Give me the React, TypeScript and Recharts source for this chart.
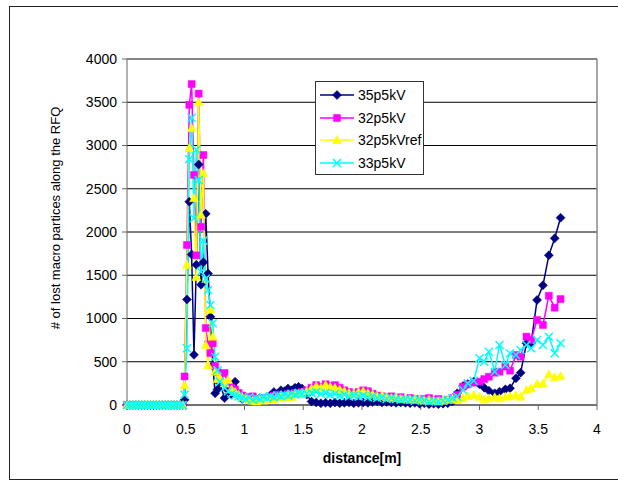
import React from "react";
import {
  LineChart,
  Line,
  XAxis,
  YAxis,
  CartesianGrid,
  ReferenceLine,
} from "recharts";

// distance along the RFQ [m]
const distance = [
  0, 0.025, 0.05, 0.075, 0.1, 0.125, 0.15, 0.175, 0.2, 0.225, 0.25, 0.275, 0.3, 0.325, 0.35, 0.375, 0.4, 0.425, 0.45, 0.475,
  0.49, 0.51, 0.53, 0.55, 0.57, 0.59, 0.61, 0.63, 0.65, 0.67, 0.69, 0.71, 0.73, 0.75, 0.77, 0.79,
  0.83, 0.86, 0.89, 0.92, 0.95, 0.98, 1.01, 1.04, 1.07, 1.1, 1.13, 1.16, 1.19, 1.22, 1.25, 1.28, 1.31, 1.34, 1.37, 1.4, 1.43, 1.46, 1.49,
  1.53, 1.57, 1.61, 1.65, 1.69, 1.73, 1.77, 1.81, 1.85, 1.89, 1.93, 1.97, 2.01, 2.05, 2.09, 2.13, 2.17, 2.21, 2.25, 2.29, 2.33, 2.37, 2.41, 2.45, 2.49, 2.53, 2.57, 2.61, 2.65, 2.69, 2.73, 2.77,
  2.81, 2.86, 2.9, 2.95, 3.0, 3.04, 3.08, 3.13, 3.17, 3.22, 3.26, 3.31, 3.35, 3.4, 3.44, 3.49, 3.54, 3.59, 3.64, 3.69,
];

const lost35p5kV = [
  0, 0, 0, 0, 0, 0, 0, 0, 0, 0, 0, 0, 0, 0, 0, 0, 0, 0, 0, 0,
  60, 1220, 2350, 1740, 580, 1620, 2780, 1390, 1650, 2210, 1520, 1020, 460, 135, 180, 250,
  80, 170, 120, 270, 110, 70, 90, 60, 50, 70, 80, 60, 90, 110, 150, 130, 170, 160, 190, 170, 200, 210, 190,
  120, 40, 30, 20, 25, 20, 30, 20, 25, 30, 20, 25, 30, 25, 35, 40, 30, 35, 30, 25, 30, 25, 20, 25, 15, 20, 10, 15, 10, 15, 20, 40,
  135, 220, 243, 270, 240, 200, 165, 135, 154, 181, 193, 309, 373, 713, 720, 1214, 1384, 1730, 1927, 2165,
];

const lost32p5kV = [
  0, 0, 0, 0, 0, 0, 0, 0, 0, 0, 0, 0, 0, 0, 0, 0, 0, 0, 0, 0,
  330, 1850, 3470, 3710, 2660, 1730, 3600, 2060, 2890, 890, 700, 600, 713, 450, 380, 300,
  370, 240, 200, 180, 140, 110, 90, 80, 100, 70, 60, 80, 70, 90, 110, 120, 100, 110, 130, 120, 140, 130, 150,
  170, 200, 230, 210, 240, 220, 230, 200, 170, 150, 130, 150, 170, 160, 130, 110, 100, 90, 100, 80, 90, 70, 80, 70, 60, 70, 80, 60, 70, 50, 60, 80,
  116, 212, 240, 258, 270, 300, 327, 373, 385, 443, 397, 578, 558, 790, 751, 983, 925, 1263, 1125, 1225,
];

const lost32p5kVref = [
  0, 0, 0, 0, 0, 0, 0, 0, 0, 0, 0, 0, 0, 0, 0, 0, 0, 0, 0, 0,
  230, 1620, 2970, 3200, 2390, 1480, 3500, 2200, 2680, 694, 460, 1100, 789, 385, 300, 312,
  250, 290, 180, 150, 120, 90, 80, 60, 50, 40, 60, 50, 70, 80, 60, 90, 100, 80, 110, 90, 120, 130, 140,
  160, 190, 220, 200, 230, 210, 200, 180, 160, 140, 130, 150, 160, 140, 120, 100, 110, 90, 80, 90, 70, 80, 60, 70, 60, 50, 60, 50, 40, 50, 60, 70,
  58, 77, 104, 116, 96, 66, 77, 90, 77, 96, 100, 116, 96, 173, 193, 243, 250, 355, 320, 335,
];

const lost33p5kV = [
  0, 0, 0, 0, 0, 0, 0, 0, 0, 0, 0, 0, 0, 0, 0, 0, 0, 0, 0, 0,
  120, 655, 2840, 3320, 2160, 2950, 2600, 1540, 1900, 1460, 1330, 1156, 944, 558, 400, 270,
  200, 160, 130, 110, 100, 80, 70, 90, 60, 80, 70, 90, 80, 100, 90, 110, 100, 120, 110, 130, 120, 140, 130,
  130, 140, 150, 130, 140, 120, 130, 110, 120, 100, 110, 100, 110, 90, 100, 80, 90, 70, 80, 70, 60, 70, 60, 50, 60, 50, 40, 50, 40, 50, 60, 80,
  96, 173, 250, 281, 540, 500, 616, 385, 694, 462, 598, 578, 636, 694, 655, 751, 694, 790, 598, 713,
];

const xTicks = [0, 0.5, 1, 1.5, 2, 2.5, 3, 3.5, 4];
const yTicks = [0, 500, 1000, 1500, 2000, 2500, 3000, 3500, 4000];

const data = distance.map((x, i) => ({
  x,
  s35: lost35p5kV[i],
  s32: lost32p5kV[i],
  s32ref: lost32p5kVref[i],
  s33: lost33p5kV[i],
}));

const FONT = '"Liberation Sans", Arial, sans-serif';

type Shape = "diamond" | "square" | "triangle" | "cross";

function markerPath(shape: Shape, cx: number, cy: number) {
  if (shape === "diamond") {
    return `M${cx},${cy - 4.5}L${cx + 4.5},${cy}L${cx},${cy + 4.5}L${cx - 4.5},${cy}Z`;
  }
  if (shape === "square") {
    return `M${cx - 3.5},${cy - 3.5}h7v7h-7Z`;
  }
  if (shape === "triangle") {
    return `M${cx},${cy - 4.5}L${cx + 4.5},${cy + 3.5}L${cx - 4.5},${cy + 3.5}Z`;
  }
  return `M${cx - 4},${cy - 4}L${cx + 4},${cy + 4}M${cx - 4},${cy + 4}L${cx + 4},${cy - 4}`;
}

function Marker({ shape, color, cx, cy }: { shape: Shape; color: string; cx: number; cy: number }) {
  if (shape === "cross") {
    return <path d={markerPath(shape, cx, cy)} stroke={color} strokeWidth={1.5} fill="none" />;
  }
  return <path d={markerPath(shape, cx, cy)} fill={color} stroke={color} strokeWidth={0.5} />;
}

const series = [
  { key: "s35", name: "35p5kV", color: "#000080", shape: "diamond" as Shape },
  { key: "s32", name: "32p5kV", color: "#FF00FF", shape: "square" as Shape },
  { key: "s32ref", name: "32p5kVref", color: "#FFFF00", shape: "triangle" as Shape },
  { key: "s33", name: "33p5kV", color: "#00FFFF", shape: "cross" as Shape },
];

function makeDot(shape: Shape, color: string) {
  return (props: any) => {
    const { cx, cy, index } = props;
    if (cx == null || cy == null) return <g key={index} />;
    return (
      <g key={index}>
        <Marker shape={shape} color={color} cx={cx} cy={cy} />
      </g>
    );
  };
}

function LegendBox() {
  return (
    <div
      style={{
        position: "absolute",
        left: 315,
        top: 81,
        width: 107,
        height: 92,
        border: "1px solid #333",
        background: "#fff",
        fontFamily: FONT,
        fontSize: 14,
      }}
    >
      {series.map((s, i) => (
        <div
          key={s.key}
          style={{ position: "absolute", left: 4, top: 3 + i * 22.5, height: 20, display: "flex", alignItems: "center" }}
        >
          <svg width={36} height={20}>
            <line x1={0} y1={10} x2={34} y2={10} stroke={s.color} strokeWidth={1.5} />
            <Marker shape={s.shape} color={s.color} cx={17} cy={10} />
          </svg>
          <span style={{ marginLeft: 2 }}>{s.name}</span>
        </div>
      ))}
    </div>
  );
}

export default function App() {
  return (
    <div style={{ position: "absolute", left: 0, top: 0, width: 618, height: 481, overflow: "hidden", background: "#fff" }}>
      <div
        style={{
          position: "absolute",
          left: 9,
          top: 6,
          width: 640,
          height: 472,
          border: "1.5px solid #222",
        }}
      />
      <div style={{ position: "absolute", left: 0, top: 0 }}>
        <LineChart
          width={618}
          height={481}
          data={data}
          margin={{ top: 59, right: 21, left: 67, bottom: 46 }}
        >
          <CartesianGrid vertical={false} stroke="#000" strokeWidth={1} />
          <XAxis
            dataKey="x"
            type="number"
            domain={[0, 4]}
            ticks={xTicks}
            height={30}
            tickSize={5}
            tickMargin={14}
            stroke="#666"
            tick={{ fill: "#000", fontSize: 14, fontFamily: FONT }}
          />
          <YAxis
            type="number"
            domain={[0, 4000]}
            ticks={yTicks}
            width={60}
            tickSize={5}
            tickMargin={5}
            stroke="#666"
            tick={{ fill: "#000", fontSize: 14, fontFamily: FONT }}
          />
          <ReferenceLine y={4000} stroke="#888" strokeWidth={1.5} />
          <ReferenceLine x={4} stroke="#888" strokeWidth={1.5} />
          {series.map((s) => (
            <Line
              key={s.key}
              dataKey={s.key}
              name={s.name}
              type="linear"
              stroke={s.color}
              strokeWidth={1.5}
              dot={makeDot(s.shape, s.color)}
              activeDot={false}
              isAnimationActive={false}
            />
          ))}
        </LineChart>
      </div>
      <div
        style={{
          position: "absolute",
          left: 55,
          top: 218,
          transform: "translate(-50%, -50%) rotate(-90deg)",
          whiteSpace: "nowrap",
          fontFamily: FONT,
          fontSize: 13,
        }}
      >
        # of lost macro partices along the RFQ
      </div>
      <div
        style={{
          position: "absolute",
          left: 362,
          top: 458,
          transform: "translate(-50%, -50%)",
          whiteSpace: "nowrap",
          fontFamily: FONT,
          fontSize: 14,
          fontWeight: "bold",
        }}
      >
        distance[m]
      </div>
      <LegendBox />
    </div>
  );
}
